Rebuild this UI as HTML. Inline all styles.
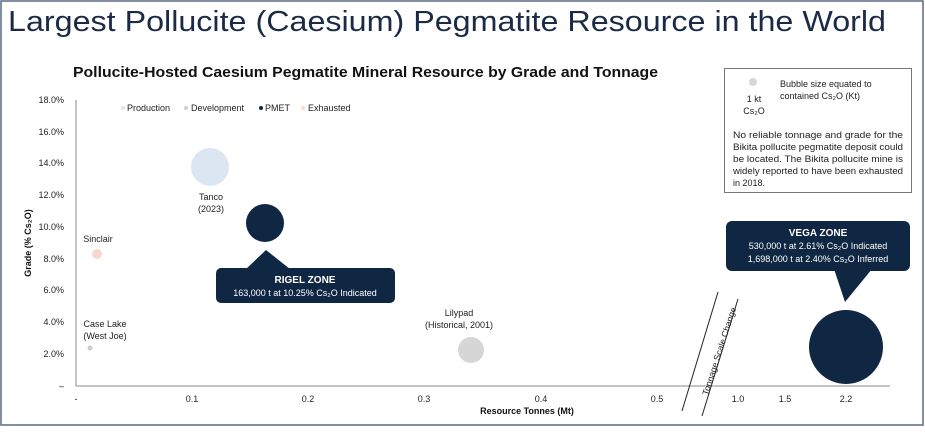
<!DOCTYPE html>
<html><head><meta charset="utf-8"><style>
body{margin:0;width:925px;height:427px;background:#fff;overflow:hidden;font-family:"Liberation Sans",sans-serif}
</style></head><body>
<svg width="925" height="427" xmlns="http://www.w3.org/2000/svg" font-family="Liberation Sans, sans-serif">
<rect x="1" y="1" width="922" height="424" fill="#fff" stroke="#5a6a80" stroke-width="1.5"/>
<text x="8" y="31" font-size="29" fill="#1b2a45" textLength="878" lengthAdjust="spacingAndGlyphs">Largest Pollucite (Caesium) Pegmatite Resource in the World</text>
<text x="73" y="77" font-size="15" font-weight="bold" fill="#111" textLength="585" lengthAdjust="spacingAndGlyphs">Pollucite-Hosted Caesium Pegmatite Mineral Resource by Grade and Tonnage</text>
<line x1="76" y1="100" x2="76" y2="386" stroke="#888" stroke-width="1"/>
<line x1="76" y1="386" x2="890" y2="386" stroke="#888" stroke-width="1"/>
<g font-size="9" fill="#222" text-anchor="end">
<text x="64" y="103">18.0%</text><text x="64" y="135">16.0%</text><text x="64" y="166">14.0%</text><text x="64" y="198">12.0%</text><text x="64" y="230">10.0%</text><text x="64" y="262">8.0%</text><text x="64" y="293">6.0%</text><text x="64" y="325">4.0%</text><text x="64" y="357">2.0%</text><text x="64" y="389">–</text>
</g>
<text transform="translate(31,243) rotate(-90)" font-size="9" font-weight="bold" fill="#111" text-anchor="middle">Grade (% Cs₂O)</text>
<g font-size="9" fill="#222" text-anchor="middle">
<text x="76" y="402">-</text><text x="192" y="402">0.1</text><text x="308" y="402">0.2</text><text x="424" y="402">0.3</text><text x="541" y="402">0.4</text><text x="657" y="402">0.5</text><text x="738" y="402">1.0</text><text x="785" y="402">1.5</text><text x="846" y="402">2.2</text>
</g>
<text x="527" y="414" font-size="9" font-weight="bold" fill="#111" text-anchor="middle">Resource Tonnes (Mt)</text>
<g font-size="9" fill="#222">
<circle cx="123" cy="108" r="2" fill="#dce6f2"/><text x="127" y="111">Production</text>
<circle cx="186" cy="108" r="2" fill="#d0d0d0"/><text x="191" y="111">Development</text>
<circle cx="261" cy="108" r="2" fill="#0f2742"/><text x="265" y="111">PMET</text>
<circle cx="303" cy="108" r="2" fill="#f8dccf"/><text x="308" y="111">Exhausted</text>
</g>
<circle cx="210" cy="167" r="19" fill="#dce6f2"/>
<text x="211" y="200" font-size="9" fill="#222" text-anchor="middle">Tanco</text>
<text x="211" y="212" font-size="9" fill="#222" text-anchor="middle">(2023)</text>
<circle cx="265" cy="223" r="19" fill="#0f2742"/>
<circle cx="97" cy="254" r="5" fill="#f6d8cc"/>
<text x="98" y="242" font-size="9" fill="#222" text-anchor="middle">Sinclair</text>
<circle cx="90" cy="348" r="2.5" fill="#ccc"/>
<text x="105" y="327" font-size="9" fill="#222" text-anchor="middle">Case Lake</text>
<text x="105" y="339" font-size="9" fill="#222" text-anchor="middle">(West Joe)</text>
<circle cx="471" cy="350" r="13" fill="#d6d6d6"/>
<text x="459" y="316" font-size="9" fill="#222" text-anchor="middle">Lilypad</text>
<text x="459" y="328" font-size="9" fill="#222" text-anchor="middle">(Historical, 2001)</text>
<circle cx="846" cy="347" r="37" fill="#0f2742"/>
<polygon points="246,269 266,250 290,269" fill="#0f2742"/>
<rect x="216" y="268" width="179" height="35" rx="5" fill="#0f2742"/>
<text x="305" y="283" font-size="10" font-weight="bold" fill="#fff" text-anchor="middle">RIGEL ZONE</text>
<text x="305" y="296" font-size="9" fill="#fff" text-anchor="middle">163,000 t at 10.25% Cs₂O Indicated</text>
<rect x="726" y="221" width="184" height="50" rx="6" fill="#0f2742"/>
<polygon points="834,269 872,269 845,302" fill="#0f2742"/>
<text x="818" y="236" font-size="10" font-weight="bold" fill="#fff" text-anchor="middle">VEGA ZONE</text>
<text x="818" y="249" font-size="9" fill="#fff" text-anchor="middle">530,000 t at 2.61% Cs₂O Indicated</text>
<text x="818" y="262" font-size="9" fill="#fff" text-anchor="middle">1,698,000 t at 2.40% Cs₂O Inferred</text>
<line x1="682" y1="411" x2="718" y2="292" stroke="#222" stroke-width="1"/>
<line x1="702" y1="416" x2="738" y2="299" stroke="#222" stroke-width="1"/>
<text transform="translate(722,352) rotate(-72)" font-size="8.5" fill="#222" text-anchor="middle" textLength="92" lengthAdjust="spacingAndGlyphs">Tonnage  Scale Change</text>
<rect x="724.5" y="68.5" width="187" height="124" fill="#fff" stroke="#777" stroke-width="1"/>
<circle cx="753" cy="82" r="4" fill="#d6d6d6"/>
<text x="754" y="102" font-size="9" fill="#222" text-anchor="middle">1 kt</text>
<text x="754" y="114" font-size="9" fill="#222" text-anchor="middle">Cs₂O</text>
<text x="780" y="87" font-size="9" fill="#222">Bubble size equated to</text>
<text x="780" y="99" font-size="9" fill="#222">contained Cs₂O (Kt)</text>
<g font-size="9" fill="#222">
<text x="733" y="138" textLength="170" lengthAdjust="spacingAndGlyphs">No reliable tonnage and grade for the</text>
<text x="733" y="150" textLength="170" lengthAdjust="spacingAndGlyphs">Bikita pollucite pegmatite deposit could</text>
<text x="733" y="162" textLength="170" lengthAdjust="spacingAndGlyphs">be located. The Bikita pollucite mine is</text>
<text x="733" y="174" textLength="170" lengthAdjust="spacingAndGlyphs">widely reported to have been exhausted</text>
<text x="733" y="186">in 2018.</text>
</g>
</svg>
</body></html>
